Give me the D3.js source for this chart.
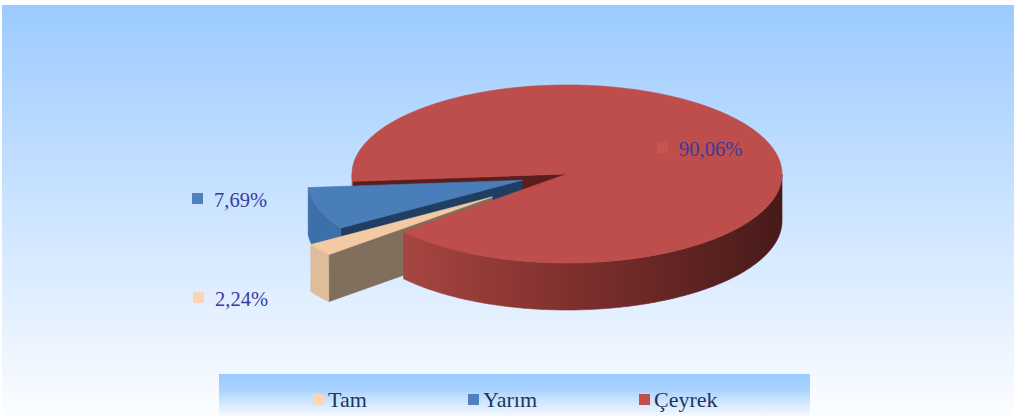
<!DOCTYPE html>
<html>
<head>
<meta charset="utf-8">
<script src="https://cdn.jsdelivr.net/npm/d3@7"></script>
<style>
  body { margin: 0; background: #fff; }
  svg { display: block; }
</style>
</head>
<body>
<div id="chart"></div>
<script>
// values
const categories = ["Tam", "Yarım", "Çeyrek"];
const shares = [2.24, 7.69, 90.06];
const shareLabels = ["2,24%", "7,69%", "90,06%"];

// colours per slice
const legendColors = ["#fcd5b5", "#4f81bd", "#c0504d"];
const topColors = ["#f4caa4", "#4a7ebb", "#bd4e4b"];
const outerColors = ["#dfbd9a", "#3d6fa8", "url(#redSide)"];
const radialColors = ["#7f6f5c", "#1f3e62", "#5c1e1d"];

const width = 1014, height = 416;
const deg = Math.PI / 180;

// 3d pie geometry
const cx = 567, cy = 174, rx = 215, ry = 89, depth = 47;
const explode = [93, 47, 0];
const startAngle = 229.5 * deg;

const svg = d3.select("#chart").append("svg")
    .attr("width", width)
    .attr("height", height);

const defs = svg.append("defs");

function vGradient(id, stops) {
    let g = defs.append("linearGradient").attr("id", id)
        .attr("x1", 0).attr("y1", 0).attr("x2", 0).attr("y2", 1);
    stops.forEach(s => g.append("stop").attr("offset", s[0]).attr("stop-color", s[1]));
}
vGradient("bg", [[0, "#9ccbff"], [1, "#fcfdff"]]);
vGradient("legendBg", [[0, "#9ccbff"], [0.35, "#a8d2ff"], [1, "#f7faff"]]);

let rs = defs.append("linearGradient").attr("id", "redSide")
    .attr("gradientUnits", "userSpaceOnUse")
    .attr("x1", cx - rx).attr("y1", 0).attr("x2", cx + rx).attr("y2", 0);
[[0, "#b34c48"], [0.5, "#80302e"], [1, "#471a19"]].forEach(s =>
    rs.append("stop").attr("offset", s[0]).attr("stop-color", s[1]));

// panel background
svg.append("rect")
    .attr("x", 2).attr("y", 5)
    .attr("width", width - 2).attr("height", height - 5)
    .attr("fill", "url(#bg)");

// pie layout
let pie = d3.pie().sort(null).value(d => d)
    .startAngle(startAngle).endAngle(startAngle + 2 * Math.PI);
let arcs = pie(shares);

function pt(a, o, dz) {
    return [cx + o[0] + rx * Math.sin(a), cy + o[1] - ry * Math.cos(a) + (dz || 0)];
}
function arcPts(a0, a1, o, dz) {
    let n = Math.max(2, Math.ceil((a1 - a0) / deg));
    return d3.range(n + 1).map(i => pt(a0 + (a1 - a0) * i / n, o, dz));
}
let line = d3.line();

let sideFaces = [];
let topFaces = [];

arcs.forEach((d, i) => {
    let mid = (d.startAngle + d.endAngle) / 2;
    let o = [explode[i] * Math.sin(mid), -explode[i] * Math.cos(mid) * ry / rx];
    let apex = [cx + o[0], cy + o[1]];
    let a0 = d.startAngle, a1 = d.endAngle;

    // top face
    let topPts = [apex].concat(arcPts(a0, a1, o));
    topFaces.push({ pts: topPts, fill: topColors[i], key: apex[1] });

    // radial faces (only those turned to the viewer)
    if (Math.sin(a0) < 0) {
        let p = pt(a0, o);
        sideFaces.push({
            pts: [apex, p, [p[0], p[1] + depth], [apex[0], apex[1] + depth]],
            fill: radialColors[i], key: (apex[1] + p[1]) / 2
        });
    }
    if (Math.sin(a1) > 0) {
        let p = pt(a1, o);
        sideFaces.push({
            pts: [apex, p, [p[0], p[1] + depth], [apex[0], apex[1] + depth]],
            fill: radialColors[i], key: (apex[1] + p[1]) / 2
        });
    }

    // outer face, front half only
    for (let k = -1; k <= 2; k++) {
        let lo = Math.max(a0, Math.PI / 2 + 2 * Math.PI * k);
        let hi = Math.min(a1, 3 * Math.PI / 2 + 2 * Math.PI * k);
        if (hi <= lo) continue;
        let upper = arcPts(lo, hi, o);
        let lower = arcPts(lo, hi, o, depth).reverse();
        sideFaces.push({
            pts: upper.concat(lower),
            fill: outerColors[i],
            key: d3.mean(upper, p => p[1])
        });
    }
});

sideFaces.sort((a, b) => a.key - b.key);
topFaces.sort((a, b) => a.key - b.key);

let pieLayer = svg.append("g");
pieLayer.selectAll("path.side")
    .data(sideFaces)
    .join("path")
    .attr("class", "side")
    .attr("d", f => line(f.pts) + "Z")
    .attr("fill", f => f.fill)
    .attr("stroke", f => f.fill)
    .attr("stroke-width", 0.6)
    .attr("stroke-linejoin", "round");

pieLayer.selectAll("path.top")
    .data(topFaces)
    .join("path")
    .attr("class", "top")
    .attr("d", f => line(f.pts) + "Z")
    .attr("fill", f => f.fill)
    .attr("stroke", f => f.fill)
    .attr("stroke-width", 0.6)
    .attr("stroke-linejoin", "round");

// data labels with small colour keys
const labelSpots = [[193, 306], [192, 207], [657, 156]];
let lab = svg.append("g").selectAll("g")
    .data(shareLabels)
    .join("g")
    .attr("transform", (d, i) => "translate(" + labelSpots[i][0] + "," + labelSpots[i][1] + ")");
lab.append("rect")
    .attr("x", 0).attr("y", -14)
    .attr("width", 11).attr("height", 11)
    .attr("fill", (d, i) => i == 2 ? "#c65451" : legendColors[i]);
lab.append("text")
    .attr("x", 22).attr("y", 0)
    .attr("font-family", "'Liberation Serif', 'Times New Roman', serif")
    .attr("font-size", 20.5)
    .attr("fill", "#3a3a9e")
    .text(d => d);

// legend
svg.append("rect")
    .attr("x", 219).attr("y", 374)
    .attr("width", 591).attr("height", 42)
    .attr("fill", "url(#legendBg)");

const legendX = [313, 468, 639];
let leg = svg.append("g").selectAll("g")
    .data(categories)
    .join("g")
    .attr("transform", (d, i) => "translate(" + legendX[i] + ",407)");
leg.append("rect")
    .attr("x", 0).attr("y", -13)
    .attr("width", 11).attr("height", 11)
    .attr("fill", (d, i) => legendColors[i]);
leg.append("text")
    .attr("x", 15).attr("y", 0)
    .attr("font-family", "'Liberation Serif', 'Times New Roman', serif")
    .attr("font-size", 22)
    .attr("fill", "#1c3660")
    .text(d => d);
</script>
</body>
</html>
